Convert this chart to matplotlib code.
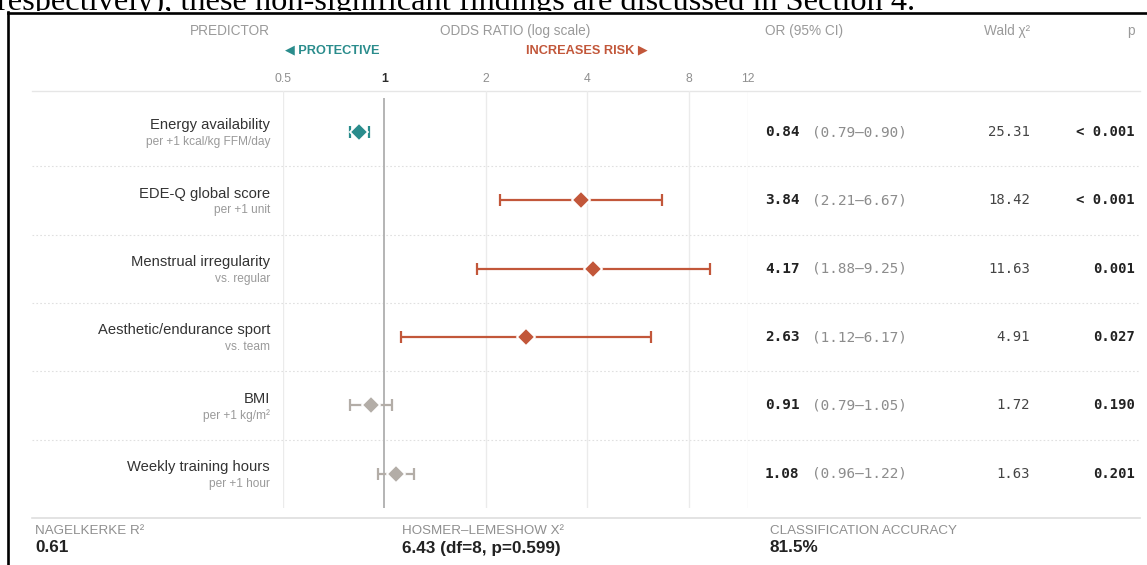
import matplotlib
matplotlib.use("Agg")
import matplotlib.pyplot as plt
import matplotlib.transforms as mtrans
from matplotlib.patches import Rectangle
from matplotlib.lines import Line2D

# ---------------- data ----------------
predictors = ["Energy availability", "EDE-Q global score", "Menstrual irregularity",
              "Aesthetic/endurance sport", "BMI", "Weekly training hours"]
sublabels = ["per +1 kcal/kg FFM/day", "per +1 unit", "vs. regular",
             "vs. team", "per +1 kg/m²", "per +1 hour"]
odds_ratio = [0.84, 3.84, 4.17, 2.63, 0.91, 1.08]
ci_low = [0.79, 2.21, 1.88, 1.12, 0.79, 0.96]
ci_high = [0.90, 6.67, 9.25, 6.17, 1.05, 1.22]
wald_chi2 = [25.31, 18.42, 11.63, 4.91, 1.72, 1.63]
p_labels = ["< 0.001", "< 0.001", "0.001", "0.027", "0.190", "0.201"]
x_ticks = [0.5, 1, 2, 4, 8, 12]
x_tick_labels = ["0.5", "1", "2", "4", "8", "12"]
footer_labels = ["NAGELKERKE R²", "HOSMER–LEMESHOW X²", "CLASSIFICATION ACCURACY"]
footer_values = ["0.61", "6.43 (df=8, p=0.599)", "81.5%"]

TEAL = "#2a8c8c"
RUST = "#c2573a"
NS_GRAY = "#b3ada7"
HEAD = "#9a9a9a"
DARK = "#2b2b2b"

W, H = 1147, 565
def fx(px):
    return px / W
def fy(py):
    return 1 - py / H

SANS = ["Liberation Sans", "DejaVu Sans"]
MONO = ["DejaVu Sans Mono"]
plt.rcParams["font.family"] = SANS

fig = plt.figure(figsize=(W / 100, H / 100), dpi=100)
fig.patch.set_facecolor("white")

# cut-off sentence of the surrounding page
fig.text(fx(-3), fy(10.3), "respectively), these non-significant findings are discussed in Section 4.",
         family=["Liberation Serif", "DejaVu Serif"], fontsize=23.3, color="black",
         ha="left", va="baseline", zorder=0)
fig.patches.append(Rectangle((fx(8), 0), 1, fy(10.8), transform=fig.transFigure,
                             facecolor="white", edgecolor="none", zorder=1))
fig.add_artist(Line2D([fx(8), 1], [fy(13), fy(13)], transform=fig.transFigure,
                      color="black", lw=1.9, zorder=5))
fig.add_artist(Line2D([fx(8), fx(8)], [fy(12), 0], transform=fig.transFigure,
                      color="black", lw=1.9, zorder=5))

# ---------------- forest axes ----------------
ax = fig.add_axes([fx(283), fy(508), fx(748) - fx(283), fy(91) - fy(508)])
ax.set_xscale("log")
ax.set_xlim(0.5, 12)
ax.set_ylim(5.5, -0.602)
ax.axis("off")
ax.set_zorder(3)

for t in x_ticks:
    if t == 1:
        ax.plot([1, 1], [5.5, -0.5], color="#b4b4b4", lw=1.4, zorder=2, solid_capstyle="butt")
    else:
        ax.axvline(t, color="#ebebeb", lw=1.0, zorder=1)

trans = mtrans.blended_transform_factory(fig.transFigure, ax.transData)
tick_trans = mtrans.blended_transform_factory(ax.transData, fig.transFigure)
for t, lab in zip(x_ticks, x_tick_labels):
    ax.text(t, fy(79), lab, transform=tick_trans, ha="center", va="center",
            fontsize=8.8, color=DARK if t == 1 else "#8f8f8f",
            fontweight="bold" if t == 1 else "normal")

# row separators
n = len(predictors)
for i in range(n - 1):
    fig.add_artist(Line2D([fx(32), fx(1140)], [i + 0.5, i + 0.5], transform=trans,
                          color="#e0e0e0", lw=0.8, linestyle=(0, (1.5, 2.0)), zorder=2))
fig.add_artist(Line2D([fx(32), fx(1140)], [fy(91), fy(91)], transform=fig.transFigure,
                      color="#e6e6e6", lw=1.0, zorder=2))
fig.add_artist(Line2D([fx(32), fx(1140)], [fy(518), fy(518)], transform=fig.transFigure,
                      color="#dedede", lw=1.2, zorder=2))

mono_w = 0.602  # em width of mono glyphs
for i in range(n):
    orv, lo, hi = odds_ratio[i], ci_low[i], ci_high[i]
    if lo > 1:
        col = RUST
    elif hi < 1:
        col = TEAL
    else:
        col = NS_GRAY
    ax.plot([lo, hi], [i, i], color=col, lw=1.6, zorder=3, solid_capstyle="butt")
    for c in (lo, hi):
        ax.plot([c], [i], marker="|", markersize=8.5, markeredgewidth=1.6, color=col, zorder=3)
    ax.plot([orv], [i], marker="D", markersize=8.8, color=col, markeredgecolor="white",
            markeredgewidth=1.3, zorder=4)

    # predictor labels
    fig.text(fx(270), i - 0.10, predictors[i], transform=trans, ha="right", va="center",
             fontsize=10.6, color="#333333")
    fig.text(fx(270), i + 0.145, sublabels[i], transform=trans, ha="right", va="center",
             fontsize=8.6, color="#9a9a9a")

    # OR (95% CI)
    fs = 10.4
    fig.text(fx(765), i, f"{orv:.2f}", transform=trans, ha="left", va="center",
             family=MONO, fontsize=fs, fontweight="bold", color="#222222")
    off = mtrans.offset_copy(trans, fig=fig, x=5 * mono_w * fs + 2.5, y=0, units="points")
    fig.text(fx(765), i, f"({lo:.2f}–{hi:.2f})", transform=off, ha="left", va="center",
             family=MONO, fontsize=fs, color="#8c8c8c")
    # Wald
    fig.text(fx(1030), i, f"{wald_chi2[i]:.2f}", transform=trans, ha="right", va="center",
             family=MONO, fontsize=10, color="#444444")
    # p
    fig.text(fx(1135), i, p_labels[i], transform=trans, ha="right", va="center",
             family=MONO, fontsize=10, fontweight="bold", color="#222222")

# ---------------- headers ----------------
hfs = 9.8
fig.text(fx(270), fy(31), "PREDICTOR", ha="right", va="center", fontsize=hfs, color=HEAD)
fig.text(fx(515), fy(31), "ODDS RATIO (log scale)", ha="center", va="center", fontsize=hfs, color=HEAD)
fig.text(fx(765), fy(31), "OR (95% CI)", ha="left", va="center", fontsize=hfs, color=HEAD)
fig.text(fx(1030), fy(31), "Wald χ²", ha="right", va="center", fontsize=hfs, color=HEAD)
fig.text(fx(1135), fy(31), "p", ha="right", va="center", fontsize=hfs, color=HEAD)

fig.text(fx(332), fy(50), "◀ PROTECTIVE", ha="center", va="center", fontsize=9.2,
         fontweight="bold", color=TEAL)
fig.text(fx(587), fy(50), "INCREASES RISK ▶", ha="center", va="center", fontsize=9.2,
         fontweight="bold", color=RUST)

# ---------------- footer ----------------
foot_x = [35, 402, 770]
for xp, lab, val in zip(foot_x, footer_labels, footer_values):
    fig.text(fx(xp), fy(531), lab, ha="left", va="center", fontsize=9.6, color="#8f8f8f")
    fig.text(fx(xp), fy(548), val, ha="left", va="center", fontsize=12.3,
             fontweight="bold", color="#222222")

fig.savefig("out.png", dpi=100, facecolor="white")
